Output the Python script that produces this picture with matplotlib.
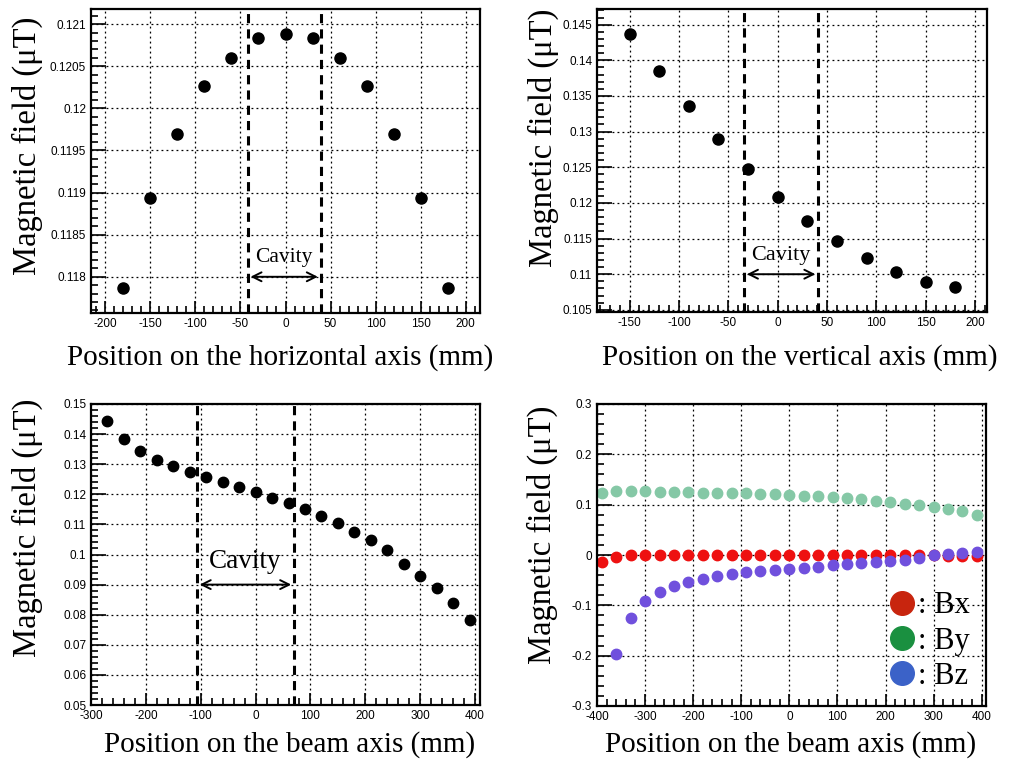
import numpy as np
import matplotlib
matplotlib.use("Agg")
import matplotlib.pyplot as plt
from matplotlib.ticker import MultipleLocator, FuncFormatter
from matplotlib.lines import Line2D

# horizontal scan
x_h = [-180, -150, -120, -90, -60, -30, 0, 30, 60, 90, 120, 150, 180]
b_h = [0.11787, 0.11894, 0.11969, 0.12027, 0.12060, 0.12083, 0.12088,
       0.12083, 0.12060, 0.12027, 0.11969, 0.11894, 0.11787]
cav_h = [-42, 39]

# vertical scan
x_v = [-150, -120, -90, -60, -30, 0, 30, 60, 90, 120, 150, 180]
b_v = [0.14364, 0.13850, 0.13358, 0.12903, 0.12473, 0.12089, 0.11752,
       0.11469, 0.11230, 0.11034, 0.10893, 0.10815]
cav_v = [-34, 41]

# beam axis scan
x_b = [-270, -240, -210, -180, -150, -120, -90, -60, -30, 0, 30, 60, 90,
       120, 150, 180, 210, 240, 270, 300, 330, 360, 390]
b_b = [0.1445, 0.1383, 0.1343, 0.1314, 0.1293, 0.1274, 0.1256, 0.1242,
       0.1225, 0.1208, 0.1189, 0.1170, 0.1152, 0.1128, 0.1104, 0.1076,
       0.1047, 0.1015, 0.0970, 0.0929, 0.0889, 0.0839, 0.0781]
cav_b = [-107, 70]

# components along beam axis
x_c = [-390, -360, -330, -300, -270, -240, -210, -180, -150, -120, -90, -60,
       -30, 0, 30, 60, 90, 120, 150, 180, 210, 240, 270, 300, 330, 360, 390]
bx = [-0.014, -0.004, 0, 0, 0, 0, 0, 0, 0, 0, 0, 0, 0, 0, 0, 0, 0, 0, 0,
      0, 0, 0, 0, 0, -0.001, -0.002, -0.002]
by = [0.1239, 0.1272, 0.1272, 0.1272, 0.1259, 0.1252, 0.1246, 0.1239,
      0.1233, 0.1233, 0.1226, 0.1219, 0.1213, 0.1193, 0.1180, 0.1173,
      0.1160, 0.1140, 0.1113, 0.1073, 0.1047, 0.1020, 0.0987, 0.0953,
      0.0914, 0.0867, 0.0801]
x_z = x_c[1:]
bz = [-0.1957, -0.1259, -0.0920, -0.0734, -0.0615, -0.0528, -0.0468,
      -0.0415, -0.0375, -0.0342, -0.0322, -0.0296, -0.0276, -0.0249,
      -0.0229, -0.0203, -0.0176, -0.0156, -0.0136, -0.0110, -0.0090,
      -0.0050, 0.0000, 0.0020, 0.0040, 0.0060]

serif = "Liberation Serif"
sans = "Liberation Sans"
ylab = "Magnetic field (\u03bcT)"

fig = plt.figure(figsize=(10.27, 7.64), dpi=100)

W, H = 1027.0, 764.0


def mk_axes(l, r, t, b):
    return fig.add_axes([l / W, 1 - b / H, (r - l) / W, (b - t) / H])


def style(ax, xmaj, xmin, ymaj, ymin):
    ax.xaxis.set_major_locator(MultipleLocator(xmaj))
    ax.xaxis.set_minor_locator(MultipleLocator(xmin))
    ax.yaxis.set_major_locator(MultipleLocator(ymaj))
    ax.yaxis.set_minor_locator(MultipleLocator(ymin))
    fmt = FuncFormatter(lambda v, p: "%g" % round(v, 6))
    ax.xaxis.set_major_formatter(fmt)
    ax.yaxis.set_major_formatter(fmt)
    ax.tick_params(which="both", direction="in", top=False, right=False,
                   labelsize=8.5, width=1.2, colors="black")
    ax.tick_params(axis="y", which="major", length=11)
    ax.tick_params(axis="x", which="major", length=9)
    ax.tick_params(which="minor", length=5)
    for lab in ax.get_xticklabels() + ax.get_yticklabels():
        lab.set_fontfamily(sans)
    ax.grid(True, which="major", color="black", ls=(0, (1.5, 2.5)), lw=0.9)
    ax.set_axisbelow(True)
    for s in ax.spines.values():
        s.set_linewidth(1.6)


def cavity(ax, xs, ya, yt, fs):
    for xv in xs:
        ax.axvline(xv, color="black", ls=(0, (3, 2)), lw=2.2)
    ax.annotate("", xy=(xs[0], ya), xytext=(xs[1], ya),
                arrowprops=dict(arrowstyle="<->", color="black", lw=1.4,
                                mutation_scale=16))
    ax.text((xs[0] + xs[1]) / 2, yt, "Cavity", ha="center", va="bottom",
            family=serif, fontsize=fs)


# top left
ax1 = mk_axes(91, 480, 9, 313)
ax1.plot(x_h, b_h, "o", color="black", ms=8)
ax1.set_xlim(-216, 216)
ax1.set_ylim(0.11757, 0.12118)
style(ax1, 50, 10, 0.0005, 0.0001)
cavity(ax1, cav_h, 0.118, 0.11812, 15.5)

# top right
ax2 = mk_axes(597, 987, 9, 312)
ax2.plot(x_v, b_v, "o", color="black", ms=8)
ax2.set_xlim(-183, 212)
ax2.set_ylim(0.1047, 0.1472)
style(ax2, 50, 10, 0.005, 0.001)
cavity(ax2, cav_v, 0.11, 0.1113, 16)

# bottom left
ax3 = mk_axes(91, 480, 404, 705)
ax3.plot(x_b, b_b, "o", color="black", ms=7.5)
ax3.set_xlim(-300, 409)
ax3.set_ylim(0.05, 0.15)
style(ax3, 100, 20, 0.01, 0.002)
cavity(ax3, cav_b, 0.09, 0.0935, 19.5)

# bottom right
ax4 = mk_axes(597, 986, 404, 706)
ax4.plot(x_c, by, "o", color="#85c8a6", ms=7.5)
ax4.plot(x_c, bx, "o", color="#ee1111", ms=7.5)
ax4.plot(x_z, bz, "o", color="#7050dd", ms=7.5)
ax4.set_xlim(-400, 409)
ax4.set_ylim(-0.3, 0.3)
style(ax4, 100, 20, 0.1, 0.02)
handles = [Line2D([], [], marker="o", ls="", ms=17, color=c)
           for c in ["#c8250e", "#1a9040", "#3b62c8"]]
leg = ax4.legend(handles, [": Bx", ": By", ": Bz"], loc="lower right",
                 bbox_to_anchor=(1.012, -0.02), frameon=False,
                 prop=dict(family=serif, size=22), handlelength=0.75,
                 handletextpad=0.12, labelspacing=0.2, borderpad=0.2)

# axis labels
xlfs = 21
fig.text(280 / W, 1 - 358 / H, "Position on the horizontal axis (mm)",
         ha="center", va="center", family=serif, fontsize=xlfs)
fig.text(800 / W, 1 - 358 / H, "Position on the vertical axis (mm)",
         ha="center", va="center", family=serif, fontsize=xlfs)
fig.text(290 / W, 1 - 745 / H, "Position on the beam axis (mm)",
         ha="center", va="center", family=serif, fontsize=xlfs)
fig.text(791 / W, 1 - 745 / H, "Position on the beam axis (mm)",
         ha="center", va="center", family=serif, fontsize=xlfs)

for xc, yc in [(27, 146), (543, 138), (27, 528), (542, 535)]:
    fig.text(xc / W, 1 - yc / H, ylab, rotation=90, ha="center",
             va="center", family=serif, fontsize=23.5)

fig.savefig("out.png", dpi=100)
